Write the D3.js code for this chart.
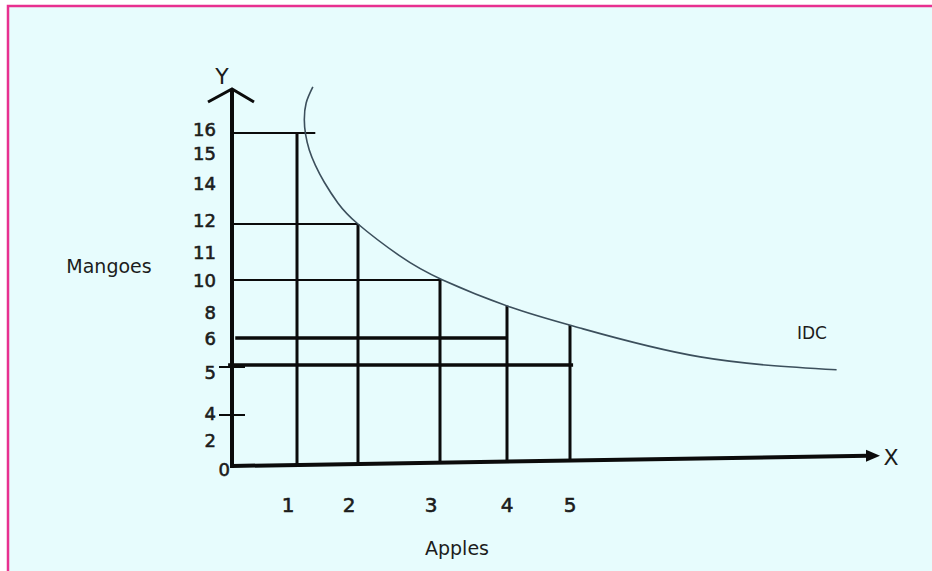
<!DOCTYPE html>
<html lang="en">
<head>
    <meta charset="UTF-8">
    <title>Indifference Curve</title>
    <script src="https://d3js.org/d3.v7.min.js"></script>
    <style>
        body { margin: 0; background: #ffffff; }
        text { font-family: "DejaVu Sans", sans-serif; fill: #1c1c1c; }
        .ylab, .xlab { stroke: #1c1c1c; stroke-width: 0.6px; }
    </style>
</head>
<body>
    <div id="chart"></div>
    <script>
        // Tick labels on each axis (the drawing uses an uneven mango scale)
        var mangoTicks = [16, 15, 14, 12, 11, 10, 8, 6, 5, 4, 2, 0];
        var appleTicks = [1, 2, 3, 4, 5];

        // Combinations marked on the diagram: apples -> height of the drop line
        var apples = [1, 2, 3, 4, 5];
        var dropTop = [16, 12, 10, 8.4, 7];

        // Horizontal guide lines: mango level and how far right they reach
        var guideLevel = [16, 12, 10, 6, 5];
        var guideStart = [0, 0, 0, 0.05, -0.06];
        var guideEnd = [1.3, 2, 3.02, 4, 5.05];
        var guideHeavy = [false, false, false, true, true];

        // Small ticks crossing the Y axis
        var dashLevel = [5, 4];

        // Indifference curve (IDC)
        var idcApples = [1.26, 1.15, 1.12, 1.14, 1.2, 1.3, 1.45, 1.67, 2, 2.51, 3.04, 4.05, 5.16, 7.1, 9.3];
        var idcMangoes = [17.92, 17.25, 16.55, 15.95, 15.3, 14.73, 14.15, 13.14, 12, 10.86, 10, 8.31, 6.77, 5.3, 4.9];

        var width = 932, height = 571;

        var svg = d3.select("#chart").append("svg")
            .attr("width", width)
            .attr("height", height);

        // Frame
        svg.append("rect")
            .attr("x", 8).attr("y", 6)
            .attr("width", width).attr("height", height)
            .attr("fill", "#e7fcfd")
            .attr("stroke", "#e8308f")
            .attr("stroke-width", 2.5);

        // Scales (hand-drawn axes, so piecewise linear)
        var x = d3.scaleLinear()
            .domain([0, 1, 2, 3, 4, 5, 10])
            .range([232, 297, 358, 440, 507, 570, 880]);
        var y = d3.scaleLinear()
            .domain([0, 2, 4, 5, 6, 8, 10, 11, 12, 14, 15, 16])
            .range([465, 440, 413, 365, 338, 312, 280, 252, 224, 187, 157, 133]);

        // the X axis is drawn with a slight tilt
        function baseY(px) { return y(0) + 1 - (px - x(0)) * 0.016; }

        var ink = "#0b0b0b";

        // Guide lines
        guideLevel.forEach(function(m, i) {
            svg.append("line")
                .attr("x1", x(guideStart[i])).attr("x2", x(guideEnd[i]))
                .attr("y1", y(m)).attr("y2", y(m))
                .attr("stroke", ink)
                .attr("stroke-width", guideHeavy[i] ? 3.5 : 2);
        });

        // Drop lines
        apples.forEach(function(a, i) {
            svg.append("line")
                .attr("x1", x(a)).attr("x2", x(a))
                .attr("y1", y(dropTop[i])).attr("y2", baseY(x(a)))
                .attr("stroke", ink)
                .attr("stroke-width", 3);
        });

        // Y axis with open arrow head
        var yTop = 89;
        svg.append("line")
            .attr("x1", x(0)).attr("x2", x(0))
            .attr("y1", yTop).attr("y2", baseY(x(0)) + 2)
            .attr("stroke", ink).attr("stroke-width", 4);
        svg.append("path")
            .attr("d", "M" + (x(0) - 24) + "," + (yTop + 13) + "L" + x(0) + "," + yTop + "L" + (x(0) + 22) + "," + (yTop + 13))
            .attr("fill", "none").attr("stroke", ink).attr("stroke-width", 3);

        // Ticks crossing the Y axis
        dashLevel.forEach(function(m) {
            svg.append("line")
                .attr("x1", x(0) - 13).attr("x2", x(0) + 13)
                .attr("y1", y(m) + 2).attr("y2", y(m) + 2)
                .attr("stroke", ink).attr("stroke-width", 2);
        });

        // X axis with filled arrow head
        var xEnd = x(10);
        svg.append("line")
            .attr("x1", x(0)).attr("x2", xEnd - 12)
            .attr("y1", baseY(x(0))).attr("y2", baseY(xEnd - 12))
            .attr("stroke", ink).attr("stroke-width", 4);
        svg.append("path")
            .attr("d", "M" + (xEnd - 14) + "," + (baseY(xEnd) - 6) + "L" + xEnd + "," + baseY(xEnd) + "L" + (xEnd - 14) + "," + (baseY(xEnd) + 6) + "Z")
            .attr("fill", ink);

        // IDC curve
        var idc = idcApples.map(function(a, i) { return [a, idcMangoes[i]]; });
        svg.append("path")
            .datum(idc)
            .attr("d", d3.line()
                .x(function(d) { return x(d[0]); })
                .y(function(d) { return y(d[1]); })
                .curve(d3.curveNatural))
            .attr("fill", "none")
            .attr("stroke", "#3c4f5c")
            .attr("stroke-width", 1.6);

        // Tick labels
        svg.selectAll(".ylab")
            .data(mangoTicks)
            .enter().append("text")
            .attr("class", "ylab")
            .attr("x", function(d) { return d === 0 ? 230 : 216; })
            .attr("y", function(d) { return y(d) + (d === 0 ? 4 : d === 5 ? 7 : d >= 12 ? -4 : 0); })
            .attr("text-anchor", "end")
            .attr("dominant-baseline", "central")
            .style("font-size", "18px")
            .text(function(d) { return d; });

        svg.selectAll(".xlab")
            .data(appleTicks)
            .enter().append("text")
            .attr("class", "xlab")
            .attr("x", function(d) { return x(d) - (d < 4 ? 9 : 0); })
            .attr("y", 505)
            .attr("text-anchor", "middle")
            .attr("dominant-baseline", "central")
            .style("font-size", "20px")
            .text(function(d) { return d; });

        // Axis names and curve label
        svg.append("text").attr("x", x(0) - 10).attr("y", 76)
            .attr("text-anchor", "middle").attr("dominant-baseline", "central")
            .style("font-size", "22px").text("Y");
        svg.append("text").attr("x", xEnd + 11).attr("y", baseY(xEnd) + 2)
            .attr("text-anchor", "middle").attr("dominant-baseline", "central")
            .style("font-size", "22px").text("X");
        svg.append("text").attr("x", 109).attr("y", 266)
            .attr("text-anchor", "middle").attr("dominant-baseline", "central")
            .style("font-size", "19px").text("Mangoes");
        svg.append("text").attr("x", 457).attr("y", 548)
            .attr("text-anchor", "middle").attr("dominant-baseline", "central")
            .style("font-size", "19px").text("Apples");
        svg.append("text").attr("x", 812).attr("y", 333)
            .attr("text-anchor", "middle").attr("dominant-baseline", "central")
            .style("font-size", "17px").text("IDC");
    </script>
</body>
</html>
